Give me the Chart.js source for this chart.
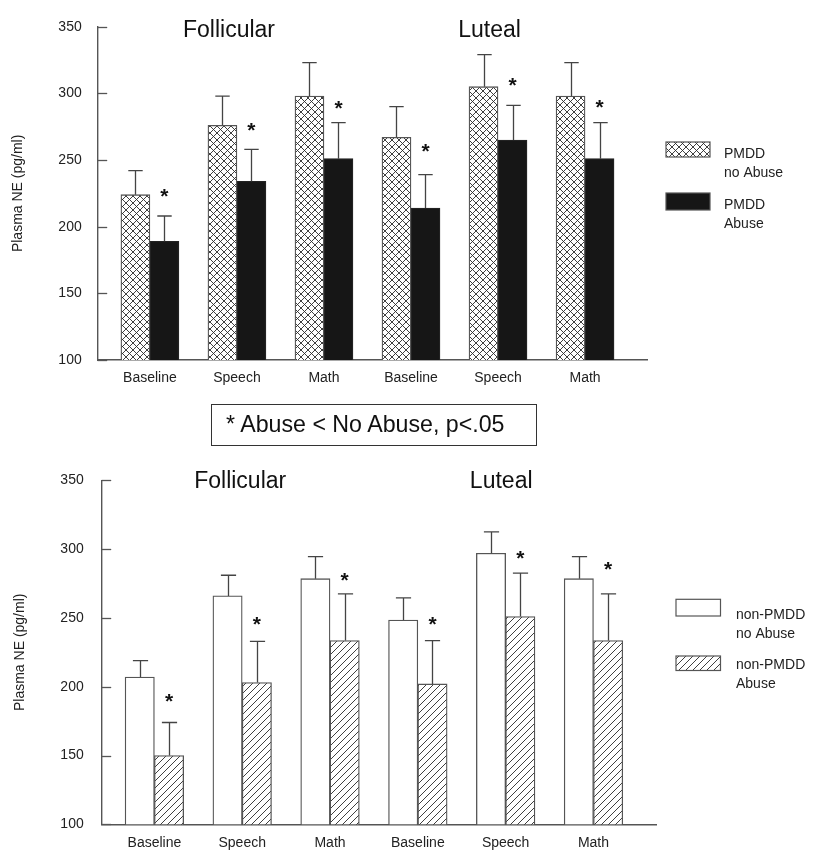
<!DOCTYPE html>
<html><head><meta charset="utf-8">
<script src="https://cdn.jsdelivr.net/npm/chart.js@4.4.0/dist/chart.umd.min.js"></script>
<style>
html,body{margin:0;padding:0;background:#fff;}
#wrap{position:relative;width:824px;height:864px;overflow:hidden;background:#fff;}
canvas{position:absolute;left:0;}
#c1{top:0}
#c2{top:390px}
#note{position:absolute;left:211px;top:404px;width:326px;height:42px;border:1.5px solid #333;box-sizing:border-box;
font:23.2px "Liberation Sans",Arial,sans-serif;color:#111;padding-left:14px;line-height:38px;white-space:nowrap;}
</style></head><body>
<div id="wrap">
<canvas id="c1" width="824" height="390"></canvas>
<canvas id="c2" width="824" height="474"></canvas>
<div id="note">* Abuse &lt; No Abuse, p&lt;.05</div>
</div>
<script>
// ---- data ----
const categories = ['Baseline', 'Speech', 'Math', 'Baseline', 'Speech', 'Math'];
const phaseLabels = ['Follicular', 'Luteal'];
const yTicks = [100, 150, 200, 250, 300, 350];
const yTitle = 'Plasma NE (pg/ml)';

const pmddNoAbuse    = [224, 276, 298, 267, 305, 298];
const pmddNoAbuseErr = [18, 22, 25, 23, 24, 25];
const pmddAbuse      = [189, 234, 251, 214, 265, 251];
const pmddAbuseErr   = [19, 24, 27, 25, 26, 27];
const pmddStars      = [227, 276.5, 293, 260.5, 310, 293.5];

const nonNoAbuse     = [207, 266, 278.5, 248.5, 297, 278.5];
const nonNoAbuseErr  = [12, 15, 16, 16, 15.5, 16];
const nonAbuse       = [150, 203, 233.5, 202, 251, 233.5];
const nonAbuseErr    = [24, 30, 34, 31.5, 31.5, 34];
const nonStars       = [193, 249, 281, 249, 297, 289];

const FONT = '"Liberation Sans", Arial, sans-serif';

// ---- patterns ----
function crossPattern(ctx) {
  const c = document.createElement('canvas'); c.width = 7; c.height = 7;
  const g = c.getContext('2d');
  g.fillStyle = '#fff'; g.fillRect(0, 0, 7, 7);
  g.strokeStyle = '#2a2a2a'; g.lineWidth = 0.9;
  g.beginPath();
  for (const s of [-7, 0, 7]) {
    g.moveTo(-1 + s, -1); g.lineTo(8 + s, 8);
    g.moveTo(8 + s, -1); g.lineTo(-1 + s, 8);
  }
  g.stroke();
  return ctx.createPattern(c, 'repeat');
}
function diagPattern(ctx) {
  const c = document.createElement('canvas'); c.width = 7; c.height = 7;
  const g = c.getContext('2d');
  g.fillStyle = '#fff'; g.fillRect(0, 0, 7, 7);
  g.strokeStyle = '#2a2a2a'; g.lineWidth = 0.9;
  g.beginPath();
  for (const s of [-7, 0, 7]) { g.moveTo(-1 + s, 8); g.lineTo(8 + s, -1); }
  g.stroke();
  return ctx.createPattern(c, 'repeat');
}

// ---- decoration plugin (error bars, stars, inward ticks, titles, legend) ----
const decor = {
  id: 'decor',
  afterDatasetsDraw(chart, args, o) {
    const ctx = chart.ctx, ys = chart.scales.y, area = chart.chartArea;
    ctx.save();
    // inward y ticks
    ctx.strokeStyle = '#555'; ctx.lineWidth = 1.3;
    ys.ticks.forEach((t, i) => {
      const py = Math.round(ys.getPixelForTick(i)) + 0.5;
      ctx.beginPath(); ctx.moveTo(area.left, py); ctx.lineTo(area.left + 9.5, py); ctx.stroke();
    });
    // error bars
    chart.data.datasets.forEach((ds, di) => {
      const meta = chart.getDatasetMeta(di);
      meta.data.forEach((el, i) => {
        const top = ys.getPixelForValue(ds.data[i].y + ds.err[i]);
        const x = Math.round(el.x) + 0.5;
        ctx.strokeStyle = '#444'; ctx.lineWidth = 1.3;
        ctx.beginPath();
        ctx.moveTo(x, el.y); ctx.lineTo(x, top);
        ctx.moveTo(x - o.cap, top); ctx.lineTo(x + o.cap, top);
        ctx.stroke();
      });
    });
    // significance stars
    const sd = chart.data.datasets[1], sm = chart.getDatasetMeta(1);
    ctx.fillStyle = '#111'; ctx.font = 'bold 21px ' + FONT;
    ctx.textAlign = 'center'; ctx.textBaseline = 'alphabetic';
    sm.data.forEach((el, i) => {
      const cy = ys.getPixelForValue(sd.stars[i]);
      ctx.fillText('*', el.x, cy + 12);
    });
    // phase titles
    ctx.font = '23px ' + FONT; ctx.fillStyle = '#111';
    phaseLabels.forEach((t, i) => ctx.fillText(t, o.titleX[i], o.titleY));
    // y title
    ctx.save();
    ctx.translate(o.yTitleX, (area.top + area.bottom) / 2);
    ctx.rotate(-Math.PI / 2);
    ctx.font = '14px ' + FONT; ctx.fillStyle = '#222'; ctx.textBaseline = 'middle';
    ctx.fillText(yTitle, 0, 0);
    ctx.restore();
    // legend
    ctx.textAlign = 'left'; ctx.textBaseline = 'alphabetic';
    ctx.font = '14px ' + FONT;
    chart.data.datasets.forEach((ds, di) => {
      const it = o.legend[di];
      ctx.fillStyle = ds.backgroundColor;
      ctx.fillRect(o.legendX, it.y, o.legendW, it.h);
      ctx.strokeStyle = '#555'; ctx.lineWidth = 1.2;
      ctx.strokeRect(o.legendX, it.y, o.legendW, it.h);
      ctx.fillStyle = '#222';
      ds.label.split('\n').forEach((ln, k) => ctx.fillText(ln, o.textX, it.t + k * o.gap));
    });
    ctx.restore();
  }
};

function makeChart(id, cfg) {
  const canvas = document.getElementById(id);
  const ctx = canvas.getContext('2d');
  const H = canvas.height, A = cfg.area;
  return new Chart(ctx, {
    type: 'bar',
    data: {
      datasets: [
        { label: cfg.labels[0], data: cfg.v1.map((y, i) => ({ x: i, y })), err: cfg.e1,
          backgroundColor: cfg.fill1(ctx), borderColor: '#555', borderWidth: 1.3, barThickness: cfg.barW },
        { label: cfg.labels[1], data: cfg.v2.map((y, i) => ({ x: i, y })), err: cfg.e2, stars: cfg.stars,
          backgroundColor: cfg.fill2(ctx), borderColor: cfg.border2, borderWidth: 1.3, barThickness: cfg.barW }
      ]
    },
    options: {
      responsive: false, animation: false, events: [],
      layout: { padding: { left: 0, top: A.top, right: 824 - A.right, bottom: 0 } },
      plugins: { legend: { display: false }, tooltip: { enabled: false }, decor: cfg.decor },
      scales: {
        x: {
          type: 'linear', min: -0.6, max: 5.72, bounds: 'data', offset: false,
          grid: { display: false, drawTicks: false },
          border: { display: true, color: '#555', width: 1.4 },
          afterBuildTicks: s => { s.ticks = categories.map((_, i) => ({ value: i })); },
          afterFit: s => { s.height = H - A.bottom; },
          ticks: { autoSkip: false, maxRotation: 0, padding: 10, color: '#222',
                   font: { family: FONT, size: 14 }, callback: v => categories[v] ?? '' }
        },
        y: {
          min: 100, max: 350,
          grid: { display: false, drawTicks: false },
          border: { display: true, color: '#555', width: 1.4 },
          afterBuildTicks: s => { s.ticks = yTicks.map(v => ({ value: v })); },
          afterFit: s => { s.width = A.left; },
          ticks: { padding: cfg.yPad, color: '#222', font: { family: FONT, size: 14 }, callback: v => String(v) }
        }
      }
    },
    plugins: [decor]
  });
}

makeChart('c1', {
  area: { left: 97.7, right: 647.7, top: 26.7, bottom: 360 },
  labels: ['PMDD\nno Abuse', 'PMDD\nAbuse'],
  v1: pmddNoAbuse, e1: pmddNoAbuseErr, v2: pmddAbuse, e2: pmddAbuseErr, stars: pmddStars,
  fill1: crossPattern, fill2: () => '#161616', border2: '#222', barW: 29, yPad: 16,
  decor: { cap: 7.2, titleX: [229, 489.5], titleY: 36.7, yTitleX: 18.5,
           legendX: 666, legendW: 44, textX: 724, gap: 18.8,
           legend: [{ y: 142, h: 15, t: 158.3 }, { y: 193, h: 17, t: 209 }] }
});

makeChart('c2', {
  area: { left: 101.7, right: 656.7, top: 90.3, bottom: 434.3 },
  labels: ['non-PMDD\nno Abuse', 'non-PMDD\nAbuse'],
  v1: nonNoAbuse, e1: nonNoAbuseErr, v2: nonAbuse, e2: nonAbuseErr, stars: nonStars,
  fill1: () => '#ffffff', fill2: diagPattern, border2: '#555', barW: 29.3, yPad: 18,
  decor: { cap: 7.6, titleX: [240.2, 501.2], titleY: 98.3, yTitleX: 20.5,
           legendX: 676, legendW: 44.5, textX: 736, gap: 18.5,
           legend: [{ y: 209.3, h: 16.7, t: 229 }, { y: 266, h: 14.5, t: 279 }] }
});
</script>
</body></html>
